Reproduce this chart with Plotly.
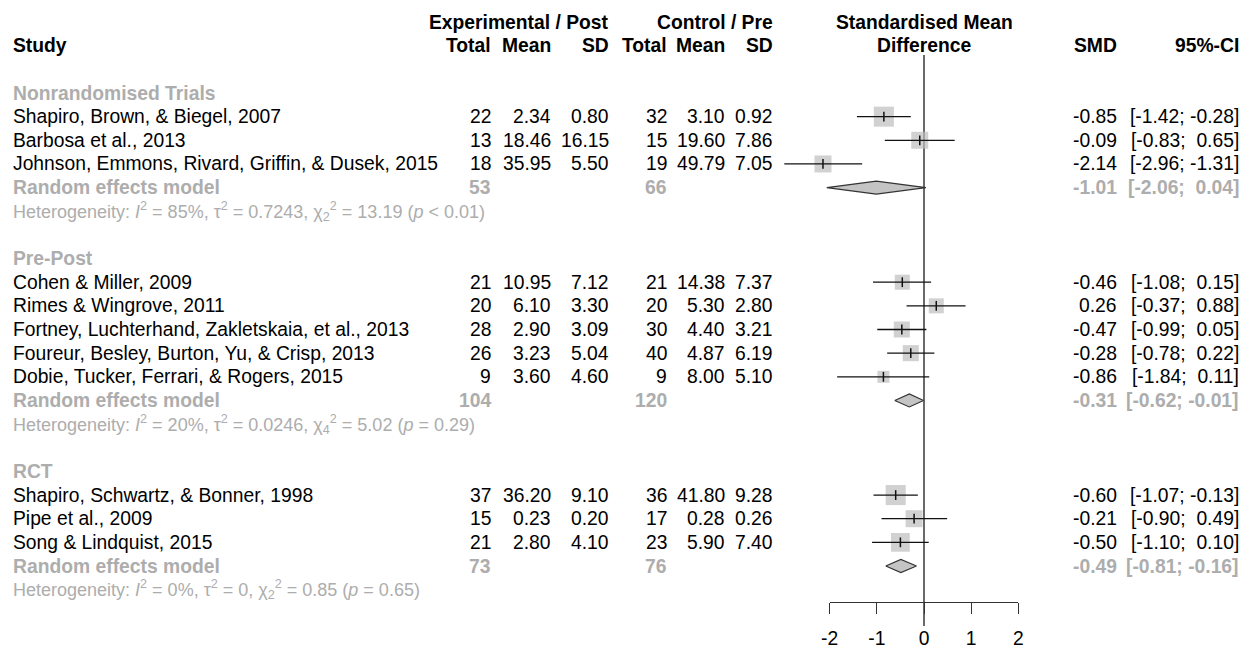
import math
import plotly.graph_objects as go

# ---------------- data ----------------
group_names = ["Nonrandomised Trials", "Pre-Post", "RCT"]
group_sizes = [3, 5, 3]
studies = [
    "Shapiro, Brown, & Biegel, 2007",
    "Barbosa et al., 2013",
    "Johnson, Emmons, Rivard, Griffin, & Dusek, 2015",
    "Cohen & Miller, 2009",
    "Rimes & Wingrove, 2011",
    "Fortney, Luchterhand, Zakletskaia, et al., 2013",
    "Foureur, Besley, Burton, Yu, & Crisp, 2013",
    "Dobie, Tucker, Ferrari, & Rogers, 2015",
    "Shapiro, Schwartz, & Bonner, 1998",
    "Pipe et al., 2009",
    "Song & Lindquist, 2015",
]
exp_n = [22, 13, 18, 21, 20, 28, 26, 9, 37, 15, 21]
exp_mean = [2.34, 18.46, 35.95, 10.95, 6.10, 2.90, 3.23, 3.60, 36.20, 0.23, 2.80]
exp_sd = [0.80, 16.15, 5.50, 7.12, 3.30, 3.09, 5.04, 4.60, 9.10, 0.20, 4.10]
ctl_n = [32, 15, 19, 21, 20, 30, 40, 9, 36, 17, 23]
ctl_mean = [3.10, 19.60, 49.79, 14.38, 5.30, 4.40, 4.87, 8.00, 41.80, 0.28, 5.90]
ctl_sd = [0.92, 7.86, 7.05, 7.37, 2.80, 3.21, 6.19, 5.10, 9.28, 0.26, 7.40]
smd = [-0.85, -0.09, -2.14, -0.46, 0.26, -0.47, -0.28, -0.86, -0.60, -0.21, -0.50]
ci_lo = [-1.42, -0.83, -2.96, -1.08, -0.37, -0.99, -0.78, -1.84, -1.07, -0.90, -1.10]
ci_hi = [-0.28, 0.65, -1.31, 0.15, 0.88, 0.05, 0.22, 0.11, -0.13, 0.49, 0.10]
weight = [12.8, 9.2, 9.2, 7.2, 7.2, 8.2, 8.2, 4.6, 12.8, 9.2, 11.2]

re_exp_n = [53, 104, 73]
re_ctl_n = [66, 120, 76]
re_smd = [-1.01, -0.31, -0.49]
re_lo = [-2.06, -0.62, -0.81]
re_hi = [0.04, -0.01, -0.16]

het_i2 = ["85%", "20%", "0%"]
het_tau2 = ["0.7243", "0.0246", "0"]
het_chi2 = ["13.19", "5.02", "0.85"]
het_df = [2, 4, 2]
het_p = ["&lt; 0.01", "= 0.29", "= 0.65"]

axis_ticks = [-2, -1, 0, 1, 2]

# ---------------- layout constants ----------------
W, H = 1249, 648
X0_PX = 924.0        # pixel of SMD = 0
PX_PER = 47.2        # pixels per SMD unit
ROW0_PX = 93.0       # pixel of first row
ROW_H = 23.65        # row height in pixels
AXIS_PX = 601.7
FONT = "Liberation Sans, Arial, sans-serif"
BLACK = "#000000"
GREY = "#adadad"
FS = 19.3
FS_HET = 18

def row_of_px(px):
    return (px - ROW0_PX) / ROW_H

# ---------------- rows ----------------
study_rows = []
group_label_rows, re_rows, het_rows = [], [], []
r = 0
for g, n in enumerate(group_sizes):
    group_label_rows.append(r)
    r += 1
    for _ in range(n):
        study_rows.append(r)
        r += 1
    re_rows.append(r)
    r += 1
    het_rows.append(r)
    r += 2

annotations = []

def txt(xpx, row, s, anchor="right", color=BLACK, size=FS, bold=False):
    if bold:
        s = "<b>" + s + "</b>"
    annotations.append(dict(
        x=xpx / W, xref="paper", y=row, yref="y", text=s, showarrow=False,
        xanchor=anchor, yanchor="middle", align=anchor, borderpad=0, borderwidth=0,
        font=dict(family=FONT, size=size, color=color),
    ))

# column right edges (px)
C_STUDY = 13
C_ETOT, C_EMEAN, C_ESD = 491, 551, 609
C_CTOT, C_CMEAN, C_CSD = 667, 725, 773
C_SMD, C_CI = 1117, 1239

def f2(v):
    return f"{v:.2f}"

def ci_txt(lo, hi):
    def p(v):
        return f"{v:.2f}" if v < 0 else "\u00a0" + f"{v:.2f}"
    return f"[{p(lo)}; {p(hi)}]"

# headers
txt(C_ESD, -3, "Experimental / Post", bold=True)
txt(C_CSD, -3, "Control / Pre", bold=True)
txt(X0_PX, -3, "Standardised Mean", anchor="center", bold=True)
txt(C_STUDY, -2, "Study", anchor="left", bold=True)
for xp, s in [(C_ETOT, "Total"), (C_EMEAN, "Mean"), (C_ESD, "SD"),
              (C_CTOT, "Total"), (C_CMEAN, "Mean"), (C_CSD, "SD"),
              (C_SMD, "SMD"), (C_CI, "95%-CI")]:
    txt(xp, -2, s, bold=True)
txt(X0_PX, -2, "Difference", anchor="center", bold=True)

# study rows
for i, rr in enumerate(study_rows):
    txt(C_STUDY, rr, studies[i], anchor="left")
    txt(C_ETOT, rr, str(exp_n[i]))
    txt(C_EMEAN, rr, f2(exp_mean[i]))
    txt(C_ESD, rr, f2(exp_sd[i]))
    txt(C_CTOT, rr, str(ctl_n[i]))
    txt(C_CMEAN, rr, f2(ctl_mean[i]))
    txt(C_CSD, rr, f2(ctl_sd[i]))
    txt(C_SMD, rr, f2(smd[i]))
    txt(C_CI, rr, ci_txt(ci_lo[i], ci_hi[i]))

# group rows
for g in range(len(group_names)):
    txt(C_STUDY, group_label_rows[g], group_names[g], anchor="left", color=GREY, bold=True)
    txt(C_STUDY, re_rows[g], "Random effects model", anchor="left", color=GREY, bold=True)
    txt(C_ETOT, re_rows[g], str(re_exp_n[g]), color=GREY, bold=True)
    txt(C_CTOT, re_rows[g], str(re_ctl_n[g]), color=GREY, bold=True)
    txt(C_SMD, re_rows[g], f2(re_smd[g]), color=GREY, bold=True)
    txt(C_CI, re_rows[g], ci_txt(re_lo[g], re_hi[g]), color=GREY, bold=True)
    het = (f"Heterogeneity: <i>I</i><sup>2</sup> = {het_i2[g]}, "
           f"\u03c4<sup>2</sup> = {het_tau2[g]}, "
           f"\u03c7<sub>{het_df[g]}</sub><sup>2</sup> = {het_chi2[g]} "
           f"(<i>p</i> {het_p[g]})")
    txt(C_STUDY, het_rows[g], het, anchor="left", color=GREY, size=FS_HET)

# ---------------- traces ----------------
fig = go.Figure()

# reference line at 0
fig.add_trace(go.Scatter(
    x=[0, 0], y=[row_of_px(55), row_of_px(626)], mode="lines",
    line=dict(color="#1a1a1a", width=1.3), hoverinfo="skip"))

# squares (size ~ sqrt(weight))
fig.add_trace(go.Scatter(
    x=smd, y=study_rows, mode="markers",
    marker=dict(symbol="square", size=[5.6 * math.sqrt(w) for w in weight],
                color="#bebebe", line=dict(width=0)),
    hoverinfo="skip"))

# confidence intervals
cx, cy = [], []
for i, rr in enumerate(study_rows):
    cx += [ci_lo[i], ci_hi[i], None]
    cy += [rr, rr, None]
fig.add_trace(go.Scatter(x=cx, y=cy, mode="lines",
                         line=dict(color="#111111", width=1.3), hoverinfo="skip"))

# point-estimate ticks
fig.add_trace(go.Scatter(
    x=smd, y=study_rows, mode="markers",
    marker=dict(symbol="line-ns", size=7, line=dict(color="#111111", width=1.5)),
    hoverinfo="skip"))

# diamonds
dh = 6.5 / ROW_H
for g in range(len(group_names)):
    rr = re_rows[g]
    fig.add_trace(go.Scatter(
        x=[re_lo[g], re_smd[g], re_hi[g], re_smd[g], re_lo[g]],
        y=[rr, rr - dh, rr, rr + dh, rr],
        mode="lines", fill="toself", fillcolor="#c4c4c4",
        line=dict(color="#333333", width=1.2), hoverinfo="skip"))

# invisible trace to create the display axis subplot
fig.add_trace(go.Scatter(x=[0], y=[0], xaxis="x2", yaxis="y", mode="markers",
                         marker=dict(opacity=0), hoverinfo="skip"))

fig.update_layout(
    width=W, height=H,
    margin=dict(l=0, r=0, t=0, b=0, pad=0, autoexpand=False),
    paper_bgcolor="white", plot_bgcolor="rgba(0,0,0,0)",
    showlegend=False, hovermode=False,
    font=dict(family=FONT, size=FS, color=BLACK),
    xaxis=dict(domain=[0, 1], range=[-X0_PX / PX_PER, (W - X0_PX) / PX_PER],
               visible=False, fixedrange=True),
    yaxis=dict(domain=[0, 1], range=[row_of_px(H), row_of_px(0)],
               visible=False, fixedrange=True),
    xaxis2=dict(
        domain=[(X0_PX + axis_ticks[0] * PX_PER) / W, (X0_PX + axis_ticks[-1] * PX_PER) / W],
        range=[axis_ticks[0], axis_ticks[-1]],
        anchor="free", position=(H - AXIS_PX) / H,
        showline=True, linecolor="#333333", linewidth=1.3,
        ticks="outside", ticklen=11, tickwidth=1.3, tickcolor="#333333",
        ticklabelstandoff=8,
        tickvals=axis_ticks, ticktext=[str(t) for t in axis_ticks],
        tickfont=dict(family=FONT, size=FS, color=BLACK),
        showgrid=False, zeroline=False, fixedrange=True,
    ),
    annotations=annotations,
)

fig.write_html(
    "out.html",
    config={"displayModeBar": False},
    post_script="document.body.style.margin='0px';document.body.style.overflow='hidden';",
)
